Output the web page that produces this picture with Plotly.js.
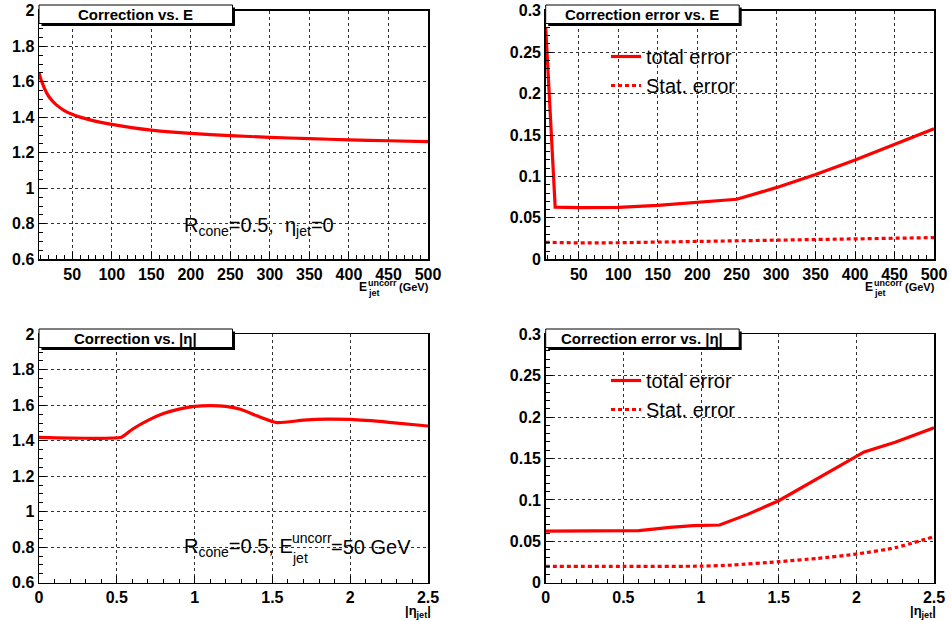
<!DOCTYPE html>
<html>
<head>
<meta charset="utf-8">
<script src="https://cdn.plot.ly/plotly-3.0.1.min.js"></script>
<style>
html,body{margin:0;padding:0;background:#fff;}
#chart{width:951px;height:621px;}
</style>
</head>
<body>
<div id="chart"></div>
<script>
// ---------- data ----------
const eCorrX = [8, 10, 12, 15, 20, 25, 30, 40, 50, 60, 75, 100, 125, 150, 200, 250, 300, 350, 400, 450, 500];
const eCorrY = [1.651, 1.62, 1.595, 1.562, 1.52, 1.492, 1.47, 1.438, 1.417, 1.401, 1.383, 1.360, 1.342, 1.328, 1.309, 1.297, 1.287, 1.280, 1.273, 1.268, 1.263];

const eErrX = [8, 20, 50, 100, 150, 200, 250, 300, 350, 400, 450, 500];
const eTotErr = [0.280, 0.063, 0.0625, 0.0627, 0.065, 0.0685, 0.0725, 0.0865, 0.1025, 0.1200, 0.1385, 0.1575];
const eStatX = [8, 50, 100, 150, 200, 250, 300, 350, 400, 450, 500];
const eStatErr = [0.0205, 0.0198, 0.0200, 0.0207, 0.0215, 0.0225, 0.0232, 0.0240, 0.0248, 0.0255, 0.0262];

const etaCorrX = [0, 0.3, 0.53, 0.6, 0.7, 0.8, 0.9, 1.0, 1.1, 1.2, 1.3, 1.4, 1.53, 1.7, 1.85, 2.0, 2.25, 2.5];
const etaCorrY = [1.419, 1.414, 1.420, 1.465, 1.515, 1.553, 1.578, 1.594, 1.598, 1.594, 1.576, 1.541, 1.502, 1.516, 1.522, 1.520, 1.504, 1.483];

const etaErrX = [0, 0.5, 0.6, 0.8, 0.95, 1.12, 1.3, 1.5, 1.75, 2.05, 2.25, 2.5];
const etaTotErr = [0.0624, 0.0624, 0.063, 0.0668, 0.069, 0.0697, 0.0825, 0.099, 0.126, 0.158, 0.1695, 0.187];
const etaStatX = [0, 0.5, 1.0, 1.2, 1.5, 1.75, 2.0, 2.25, 2.5];
const etaStatErr = [0.0197, 0.0197, 0.0200, 0.0213, 0.0254, 0.0294, 0.0346, 0.0423, 0.0556];

const panelTitles = ["Correction vs. E", "Correction error vs. E", "Correction vs. |η|", "Correction error vs. |η|"];
const legendNames = ["total error", "Stat. error"];

// ---------- helpers ----------
const W = 951, H = 621;
const px = x => x / W;
const py = y => 1 - y / H;
const RED = '#ff0000';
const FONT = 'Liberation Sans, Arial, Helvetica, sans-serif';

const dom = {
  xL: [px(39), px(428)],
  xR: [px(545.7), px(934)],
  yT: [py(259.3), py(10.8)],
  yB: [py(582.7), py(334.3)]
};

function axisBase(extra) {
  return Object.assign({
    showline: true, mirror: true, linecolor: '#000', linewidth: 1.5,
    ticks: 'inside', ticklen: 7, tickwidth: 1, tickcolor: '#000',
    showgrid: true, gridcolor: '#333', griddash: 'dot', gridwidth: 1,
    zeroline: false,
    tickfont: {family: FONT, size: 16, color: '#000', weight: 'bold'},
    fixedrange: true
  }, extra);
}

const solid = {color: RED, width: 3.2};
const dotted = {color: RED, width: 3.2, dash: '4px,3px'};

const traces = [
  {x: eCorrX, y: eCorrY, xaxis: 'x', yaxis: 'y', mode: 'lines', line: Object.assign({shape: 'spline', smoothing: 0.6}, solid), showlegend: false},
  {x: eErrX, y: eTotErr, xaxis: 'x2', yaxis: 'y2', mode: 'lines', line: solid, name: legendNames[0], legend: 'legend'},
  {x: eStatX, y: eStatErr, xaxis: 'x2', yaxis: 'y2', mode: 'lines', line: dotted, name: legendNames[1], legend: 'legend'},
  {x: etaCorrX, y: etaCorrY, xaxis: 'x3', yaxis: 'y3', mode: 'lines', line: Object.assign({shape: 'spline', smoothing: 0.5}, solid), showlegend: false},
  {x: etaErrX, y: etaTotErr, xaxis: 'x4', yaxis: 'y4', mode: 'lines', line: solid, name: legendNames[0], legend: 'legend2'},
  {x: etaStatX, y: etaStatErr, xaxis: 'x4', yaxis: 'y4', mode: 'lines', line: Object.assign({shape: 'spline', smoothing: 0.6}, dotted), name: legendNames[1], legend: 'legend2'}
];

const eTicks = [50, 100, 150, 200, 250, 300, 350, 400, 450, 500];
const minorE = {ticks: 'inside', dtick: 10, tick0: 0, ticklen: 4, tickcolor: '#000', showgrid: false};
const minorEta = {ticks: 'inside', dtick: 0.1, tick0: 0, ticklen: 4, tickcolor: '#000', showgrid: false};
const minorC = {ticks: 'inside', dtick: 0.05, tick0: 0, ticklen: 4, tickcolor: '#000', showgrid: false};
const minorErr = {ticks: 'inside', dtick: 0.01, tick0: 0, ticklen: 4, tickcolor: '#000', showgrid: false};

// title boxes
const shapes = [];
const annotations = [];
function titleBox(x0, y0, text) {
  const w = 193.5, h = 18.5;
  shapes.push({type: 'rect', xref: 'paper', yref: 'paper', x0: px(x0 + 2.5), x1: px(x0 + w + 2.5), y0: py(y0 + h + 2.5), y1: py(y0 + 2.5), fillcolor: '#000', line: {width: 0}, layer: 'above'});
  shapes.push({type: 'rect', xref: 'paper', yref: 'paper', x0: px(x0), x1: px(x0 + w), y0: py(y0 + h), y1: py(y0), fillcolor: '#fff', line: {color: '#000', width: 1}, layer: 'above'});
  annotations.push({xref: 'paper', yref: 'paper', x: px(x0 + w / 2), y: py(y0 + h / 2 + 0.5), text: text, showarrow: false, xanchor: 'center', yanchor: 'middle', font: {family: FONT, size: 15, color: '#000', weight: 'bold'}});
}
titleBox(39, 5, panelTitles[0]);
titleBox(545.7, 5, panelTitles[1]);
titleBox(39, 329, panelTitles[2]);
titleBox(545.7, 329, panelTitles[3]);

function txt(x, y, text, size, bold, anchor) {
  annotations.push({xref: 'paper', yref: 'paper', x: px(x), y: py(y), text: text, showarrow: false,
    xanchor: anchor || 'left', yanchor: 'middle',
    font: {family: FONT, size: size, color: '#000', weight: bold ? 'bold' : 'normal'}});
}
// in-plot labels
txt(182, 226, 'R<sub>cone</sub>=0.5,  η<sub>jet</sub>=0', 20, false);
txt(182, 547, 'R<sub>cone</sub>=0.5, E', 20, false);
txt(290, 538, 'uncorr', 14, false);
txt(290, 558, 'jet', 14, false);
txt(329, 547, '=50 GeV', 20, false);

// axis titles
function eTitle(x) {
  txt(x, 287, 'E', 12, true);
  txt(x + 9, 282.5, 'uncorr', 9, true);
  txt(x + 9, 293, 'jet', 9, true);
  txt(x + 40, 287, '(GeV)', 11, true);
}
eTitle(357);
eTitle(863);
function etaTitle(x) {
  txt(x, 611, '|η<sub>jet</sub>|', 13, true);
}
etaTitle(403);
etaTitle(908);

const legendFont = {family: FONT, size: 20, color: '#000'};
const layout = {
  width: W, height: H,
  margin: {l: 0, r: 0, t: 0, b: 0},
  paper_bgcolor: '#fff', plot_bgcolor: '#fff',
  xaxis: axisBase({domain: dom.xL, anchor: 'y', range: [8, 500], tickvals: eTicks, minor: minorE}),
  yaxis: axisBase({domain: dom.yT, anchor: 'x', range: [0.6, 2], dtick: 0.2, tick0: 0, minor: minorC}),
  xaxis2: axisBase({domain: dom.xR, anchor: 'y2', range: [8, 500], tickvals: eTicks, minor: minorE}),
  yaxis2: axisBase({domain: dom.yT, anchor: 'x2', range: [0, 0.3], dtick: 0.05, tick0: 0, minor: minorErr}),
  xaxis3: axisBase({domain: dom.xL, anchor: 'y3', range: [0, 2.5], dtick: 0.5, tick0: 0, minor: minorEta}),
  yaxis3: axisBase({domain: dom.yB, anchor: 'x3', range: [0.6, 2], dtick: 0.2, tick0: 0, minor: minorC}),
  xaxis4: axisBase({domain: dom.xR, anchor: 'y4', range: [0, 2.5], dtick: 0.5, tick0: 0, minor: minorEta}),
  yaxis4: axisBase({domain: dom.yB, anchor: 'x4', range: [0, 0.3], dtick: 0.05, tick0: 0, minor: minorErr}),
  legend: {x: px(606), y: py(37), xanchor: 'left', yanchor: 'top', bgcolor: 'rgba(0,0,0,0)', borderwidth: 0,
    font: legendFont, itemwidth: 30, tracegroupgap: 0},
  legend2: {x: px(606), y: py(361), xanchor: 'left', yanchor: 'top', bgcolor: 'rgba(0,0,0,0)', borderwidth: 0,
    font: legendFont, itemwidth: 30, tracegroupgap: 0},
  shapes: shapes,
  annotations: annotations,
  showlegend: true
};

Plotly.newPlot('chart', traces, layout, {staticPlot: true, displayModeBar: false});
</script>
</body>
</html>
